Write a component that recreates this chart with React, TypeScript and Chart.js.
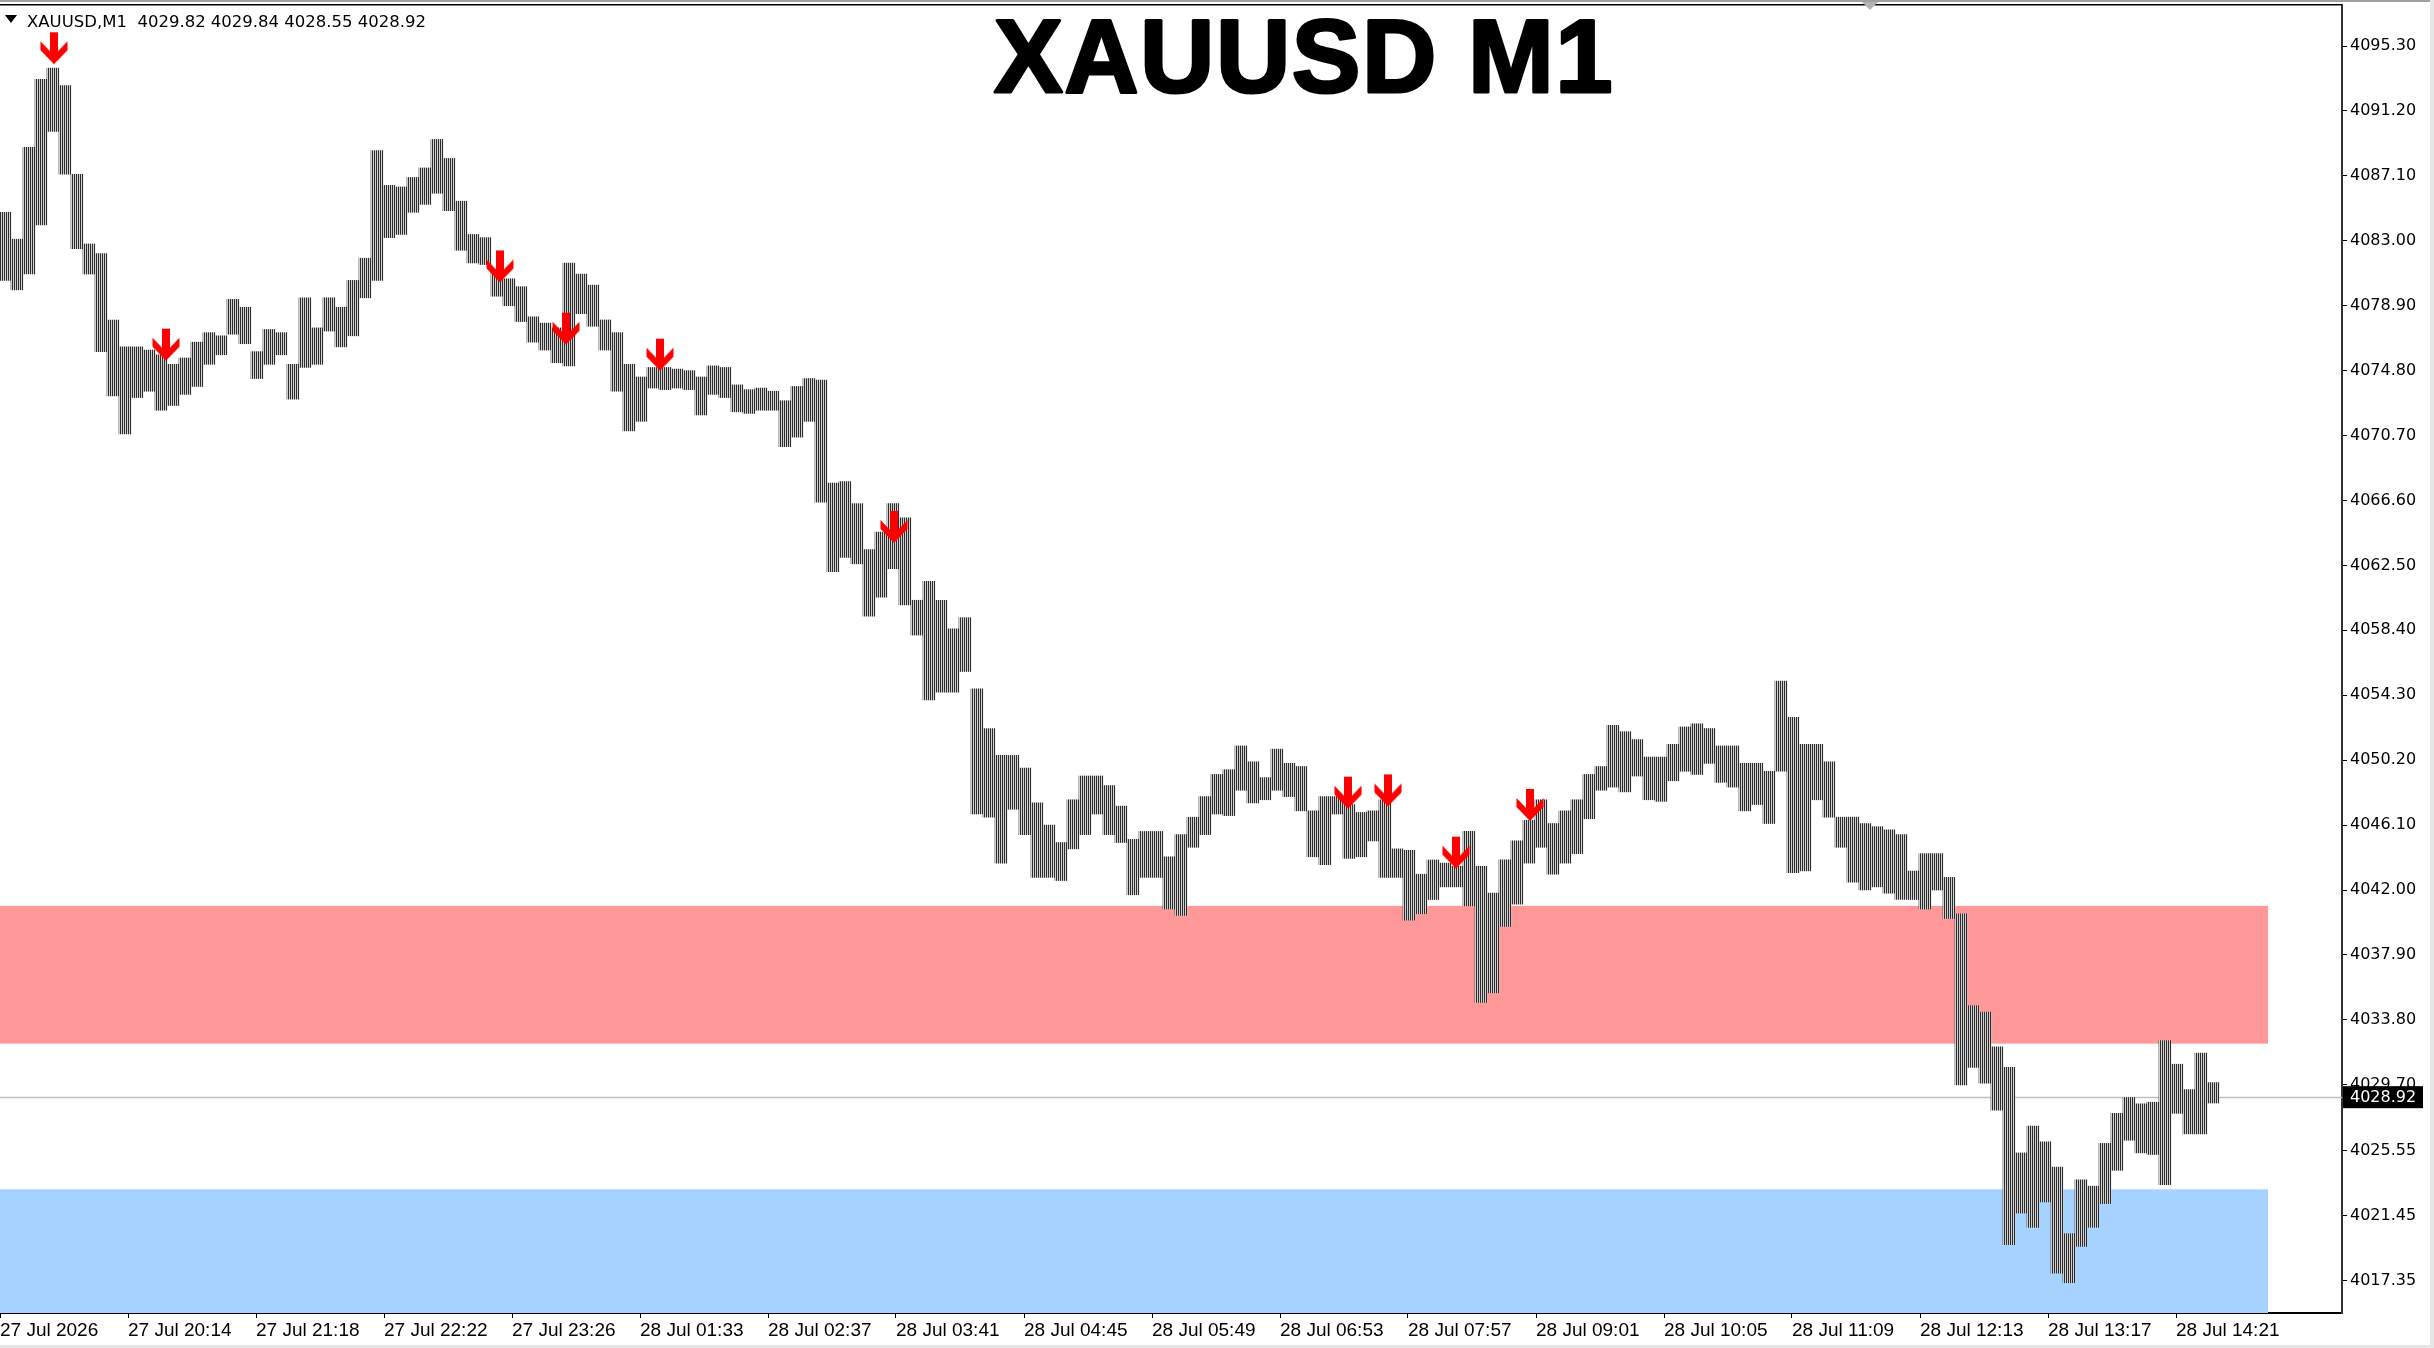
import { useEffect, useRef } from 'react';
import Chart from 'chart.js/auto';

// one floating bar = 6 one-minute bars (high / low of that block)
const chunkBars = 6;

const barHigh = [
  4084.8, 4083.1, 4088.9, 4093.2, 4093.9, 4092.8, 4087.2, 4082.8, 4082.2, 4078.0,
  4076.3, 4076.3, 4076.1, 4075.8, 4075.2, 4075.6, 4076.6, 4077.2, 4077.0, 4079.3,
  4078.8, 4076.0, 4077.4, 4077.2, 4075.2, 4079.4, 4077.5, 4079.4, 4078.8, 4080.5,
  4081.9, 4088.7, 4086.5, 4086.4, 4087.0, 4087.6, 4089.4, 4088.2, 4085.5, 4083.4,
  4083.2, 4081.2, 4080.6, 4080.1, 4078.2, 4077.8, 4077.5, 4081.6, 4080.9, 4080.2,
  4078.0, 4077.2, 4075.2, 4074.4, 4075.0, 4075.0, 4074.9, 4074.8, 4074.4, 4075.1,
  4075.0, 4073.9, 4073.6, 4073.7, 4073.5, 4072.9, 4073.8, 4074.3, 4074.2, 4067.7,
  4067.8, 4066.4, 4063.5, 4064.6, 4066.4, 4065.5, 4060.3, 4061.5, 4060.3, 4058.5,
  4059.2, 4054.7, 4052.2, 4050.5, 4050.5, 4049.7, 4047.5, 4046.1, 4045.0, 4047.7,
  4049.2, 4049.2, 4048.6, 4047.3, 4045.2, 4045.7, 4045.7, 4044.1, 4045.5, 4046.6,
  4047.9, 4049.3, 4049.6, 4051.1, 4050.1, 4049.1, 4050.9, 4050.0, 4049.8, 4047.0,
  4047.9, 4047.9, 4047.4, 4046.9, 4047.0, 4047.7, 4044.6, 4044.5, 4043.0, 4043.9,
  4043.7, 4043.5, 4045.7, 4043.5, 4041.8, 4043.9, 4045.1, 4046.4, 4047.7, 4046.2,
  4047.0, 4047.7, 4049.3, 4049.8, 4052.4, 4052.0, 4051.5, 4050.4, 4050.4, 4051.2,
  4052.3, 4052.5, 4052.2, 4051.1, 4051.1, 4050.0, 4050.0, 4049.5, 4055.2, 4052.9,
  4051.2, 4051.2, 4050.1, 4046.6, 4046.6, 4046.2, 4046.0, 4045.8, 4045.5, 4043.2,
  4044.3, 4044.3, 4042.8, 4040.5, 4034.7, 4034.3, 4032.1, 4030.8, 4025.4, 4027.1,
  4026.1, 4024.5, 4020.3, 4023.7, 4023.3, 4026.0, 4027.9, 4028.9, 4028.5, 4028.6,
  4032.5, 4031.0, 4029.4, 4031.7, 4029.84,
];

const barLow = [
  4080.5, 4079.9, 4080.9, 4084.0, 4089.9, 4087.2, 4082.5, 4080.9, 4076.0, 4073.2,
  4070.8, 4073.1, 4073.5, 4072.3, 4072.6, 4073.3, 4073.8, 4075.2, 4075.8, 4077.1,
  4076.5, 4074.3, 4075.2, 4075.8, 4073.0, 4075.0, 4075.2, 4077.3, 4076.3, 4077.0,
  4079.4, 4080.5, 4083.2, 4083.4, 4084.8, 4085.3, 4086.0, 4084.9, 4082.4, 4081.6,
  4081.5, 4079.5, 4078.9, 4077.9, 4076.6, 4076.1, 4075.3, 4075.1, 4078.4, 4077.6,
  4076.1, 4073.5, 4071.0, 4071.6, 4073.7, 4073.6, 4073.7, 4073.6, 4072.0, 4073.3,
  4073.1, 4072.2, 4072.1, 4072.3, 4072.3, 4070.0, 4070.6, 4071.6, 4066.5, 4062.1,
  4063.0, 4062.6, 4059.3, 4060.5, 4062.3, 4060.0, 4058.1, 4054.0, 4054.5, 4054.5,
  4055.8, 4046.8, 4046.6, 4043.7, 4047.1, 4045.5, 4042.8, 4042.8, 4042.6, 4044.6,
  4045.5, 4046.8, 4045.5, 4045.0, 4041.7, 4042.8, 4042.8, 4040.8, 4040.4, 4044.7,
  4045.5, 4046.8, 4046.7, 4048.3, 4047.5, 4047.7, 4048.3, 4047.9, 4047.0, 4044.1,
  4043.6, 4046.8, 4044.0, 4044.1, 4045.1, 4042.8, 4042.8, 4040.1, 4040.5, 4041.4,
  4042.2, 4042.2, 4041.0, 4034.9, 4035.5, 4039.7, 4041.1, 4043.7, 4044.7, 4043.0,
  4043.7, 4044.3, 4046.5, 4048.3, 4048.5, 4048.2, 4049.2, 4047.7, 4047.6, 4048.9,
  4049.5, 4049.3, 4050.0, 4048.8, 4048.5, 4047.0, 4047.4, 4046.2, 4049.5, 4043.1,
  4043.2, 4047.7, 4046.6, 4044.7, 4042.5, 4042.0, 4042.2, 4041.8, 4041.4, 4041.4,
  4040.8, 4042.0, 4040.2, 4029.7, 4030.8, 4029.8, 4028.1, 4019.6, 4021.6, 4020.7,
  4022.3, 4017.8, 4017.2, 4019.5, 4020.7, 4022.2, 4024.3, 4026.2, 4025.4, 4025.3,
  4023.4, 4027.9, 4026.6, 4026.6, 4028.55,
];

// sell signal arrows: bar index and price of the arrow tip
const arrowBars = [27, 83, 250, 283, 330, 447, 674, 694, 728, 765];
const arrowPrices = [4094.15, 4075.43, 4080.37, 4076.44, 4074.8, 4063.92, 4047.14, 4047.28, 4043.35, 4046.36];

const xTickBars = [0, 64, 128, 192, 256, 320, 384, 448, 512, 576, 640, 704, 768, 832, 896, 960, 1024, 1088];
const xTickLabels = [
  '27 Jul 2026', '27 Jul 20:14', '27 Jul 21:18', '27 Jul 22:22', '27 Jul 23:26', '28 Jul 01:33',
  '28 Jul 02:37', '28 Jul 03:41', '28 Jul 04:45', '28 Jul 05:49', '28 Jul 06:53', '28 Jul 07:57',
  '28 Jul 09:01', '28 Jul 10:05', '28 Jul 11:09', '28 Jul 12:13', '28 Jul 13:17', '28 Jul 14:21',
];
const yTickLabels = [
  '4095.30', '4091.20', '4087.10', '4083.00', '4078.90', '4074.80', '4070.70', '4066.60', '4062.50', '4058.40',
  '4054.30', '4050.20', '4046.10', '4042.00', '4037.90', '4033.80', '4029.70', '4025.55', '4021.45', '4017.35',
];

// supply / demand rectangles
const zoneStartBar = [-20, -20];
const zoneEndBar = [1134, 1134];
const zoneHigh = [4041.0, 4023.1];
const zoneLow = [4032.3, 4010.0];
const zoneColors = ['#ff9999', '#a6d2ff'];

const symbolName = 'XAUUSD,M1';
const quote = ['4029.82', '4029.84', '4028.55', '4028.92'];
const lastClose = 4028.92;

function makeArrow() {
  const c = document.createElement('canvas');
  c.width = 28;
  c.height = 66;
  const g = c.getContext('2d');
  if (g) {
    g.fillStyle = '#ff0000';
    g.beginPath();
    g.moveTo(10, 1);
    g.lineTo(18, 1);
    g.lineTo(18, 20);
    g.lineTo(27.5, 10);
    g.lineTo(27.5, 19);
    g.lineTo(14, 33);
    g.lineTo(0.5, 19);
    g.lineTo(0.5, 10);
    g.lineTo(10, 20);
    g.closePath();
    g.fill();
  }
  return c;
}

// 2px stripe so the blocks read like rows of 1px bar lines
function makeStripes(ctx: CanvasRenderingContext2D) {
  const c = document.createElement('canvas');
  c.width = 2;
  c.height = 1;
  const g = c.getContext('2d');
  if (g) {
    g.fillStyle = '#2e2e2e';
    g.fillRect(0, 0, 1, 1);
    g.fillStyle = '#cfcfcf';
    g.fillRect(1, 0, 1, 1);
  }
  return ctx.createPattern(c, 'repeat') || '#7b7b7b';
}

const overlay = {
  id: 'mtOverlay',
  beforeDatasetsDraw(chart: any) {
    const { ctx, chartArea, scales } = chart;
    ctx.save();
    ctx.beginPath();
    ctx.rect(chartArea.left, chartArea.top, chartArea.right - chartArea.left, chartArea.bottom - chartArea.top);
    ctx.clip();
    zoneHigh.forEach((h, i) => {
      const x0 = scales.x.getPixelForValue(zoneStartBar[i]);
      const x1 = scales.x.getPixelForValue(zoneEndBar[i]);
      const y0 = scales.y.getPixelForValue(h);
      const y1 = scales.y.getPixelForValue(zoneLow[i]);
      ctx.fillStyle = zoneColors[i];
      ctx.fillRect(x0, y0, x1 - x0, y1 - y0);
    });
    const py = Math.round(scales.y.getPixelForValue(lastClose)) + 0.5;
    ctx.strokeStyle = '#c0c0c0';
    ctx.lineWidth = 1.5;
    ctx.beginPath();
    ctx.moveTo(chartArea.left, py);
    ctx.lineTo(chartArea.right, py);
    ctx.stroke();
    ctx.restore();
  },
  afterDraw(chart: any) {
    const { ctx, chartArea, scales, width, height } = chart;
    ctx.save();

    // window frame bits
    ctx.fillStyle = '#e6e6e6';
    ctx.fillRect(width - 4, 0, 4, height);
    ctx.fillRect(0, height - 3, width, 3);
    ctx.fillStyle = '#a0a0a0';
    ctx.fillRect(0, 0, width - 4, 2);
    ctx.fillStyle = '#000';
    ctx.fillRect(0, chartArea.top - 1, chartArea.right, 1.5);
    ctx.fillStyle = '#b4b4b4';
    ctx.beginPath();
    ctx.moveTo(1862, 2);
    ctx.lineTo(1878, 2);
    ctx.lineTo(1870, 10);
    ctx.closePath();
    ctx.fill();

    // symbol line, top left
    ctx.fillStyle = '#000';
    ctx.beginPath();
    ctx.moveTo(5, 15);
    ctx.lineTo(17, 15);
    ctx.lineTo(11, 23);
    ctx.closePath();
    ctx.fill();
    ctx.font = '16.5px "DejaVu Sans"';
    ctx.textAlign = 'left';
    ctx.textBaseline = 'alphabetic';
    ctx.fillText(symbolName + '  ' + quote.join(' '), 27, 27);

    // big title
    ctx.font = 'bold 103px "Liberation Sans"';
    ctx.textAlign = 'center';
    (ctx as any).letterSpacing = '1.5px';
    ctx.lineWidth = 3;
    ctx.strokeStyle = '#000';
    ctx.lineJoin = 'round';
    ctx.fillText('XAUUSD M1', 1304, 92);
    ctx.strokeText('XAUUSD M1', 1304, 92);
    (ctx as any).letterSpacing = '0px';

    // current price tag on the price scale
    const py = scales.y.getPixelForValue(lastClose);
    ctx.fillStyle = '#000';
    ctx.fillRect(chartArea.right + 1, py - 11, 80, 22);
    ctx.fillStyle = '#fff';
    ctx.font = '16px "DejaVu Sans"';
    ctx.textAlign = 'left';
    ctx.textBaseline = 'middle';
    ctx.fillText(quote[3], chartArea.right + 8, py + 1);
    ctx.restore();
  },
};

export default function App() {
  const chartRef = useRef<HTMLCanvasElement>(null);
  const chartInstance = useRef<Chart | null>(null);

  useEffect(() => {
    document.body.style.margin = '0';
    if (chartRef.current) {
      const ctx = chartRef.current.getContext('2d');
      if (ctx) {
        if (chartInstance.current) {
          chartInstance.current.destroy();
        }

        const arrow = makeArrow();
        const stripes = makeStripes(ctx);

        chartInstance.current = new Chart(ctx, {
          type: 'bar',
          data: {
            datasets: [
              {
                type: 'scatter',
                label: 'signals',
                data: arrowBars.map((b, i) => ({ x: b, y: arrowPrices[i] })),
                pointStyle: arrow as any,
                pointRadius: 16,
                order: 1,
              } as any,
              {
                type: 'bar',
                label: 'XAUUSD',
                data: barHigh.map((h, i) => ({ x: i * chunkBars + 2.5, y: [barLow[i], h] })) as any,
                backgroundColor: stripes as any,
                borderWidth: 0,
                barThickness: 12,
                grouped: false,
                order: 2,
              },
            ],
          },
          options: {
            responsive: false,
            animation: false,
            devicePixelRatio: 1,
            layout: { autoPadding: false, padding: { top: 5, left: 0, right: 0, bottom: 0 } },
            plugins: {
              legend: { display: false },
              tooltip: { enabled: false },
              title: { display: false },
            },
            scales: {
              x: {
                type: 'linear',
                min: 0,
                max: 1171,
                offset: false,
                grid: { display: true, drawOnChartArea: false, drawTicks: true, tickLength: 5, color: '#000', offset: false },
                border: { display: true, color: '#000', width: 2 },
                afterBuildTicks: (scale: any) => {
                  scale.ticks = xTickBars.map((v) => ({ value: v }));
                },
                afterFit: (scale: any) => {
                  scale.height = 35;
                  scale.paddingLeft = 0;
                  scale.paddingRight = 0;
                },
                ticks: {
                  autoSkip: false,
                  maxRotation: 0,
                  align: 'start',
                  padding: 1,
                  color: '#000',
                  font: { family: '"Liberation Sans"', size: 19 },
                  callback: (_v: any, i: number) => xTickLabels[i],
                },
              },
              y: {
                type: 'linear',
                position: 'right',
                min: 4015.29,
                max: 4097.89,
                grid: { display: true, drawOnChartArea: false, drawTicks: true, tickLength: 5, color: '#000' },
                border: { display: true, color: '#333', width: 2 },
                afterBuildTicks: (scale: any) => {
                  scale.ticks = yTickLabels.map((t) => ({ value: parseFloat(t) }));
                },
                afterFit: (scale: any) => {
                  scale.width = 92;
                  scale.paddingTop = 0;
                  scale.paddingBottom = 0;
                },
                ticks: {
                  autoSkip: false,
                  padding: 3,
                  color: '#000',
                  font: { family: '"DejaVu Sans"', size: 16 },
                  callback: (_v: any, i: number) => yTickLabels[i],
                },
              },
            },
          },
          plugins: [overlay],
        });
      }
    }

    return () => {
      if (chartInstance.current) {
        chartInstance.current.destroy();
        chartInstance.current = null;
      }
    };
  }, []);

  return (
    <div style={{ width: 2434, height: 1348, background: '#fff' }}>
      <canvas ref={chartRef} width={2434} height={1348} style={{ display: 'block' }}></canvas>
    </div>
  );
}
